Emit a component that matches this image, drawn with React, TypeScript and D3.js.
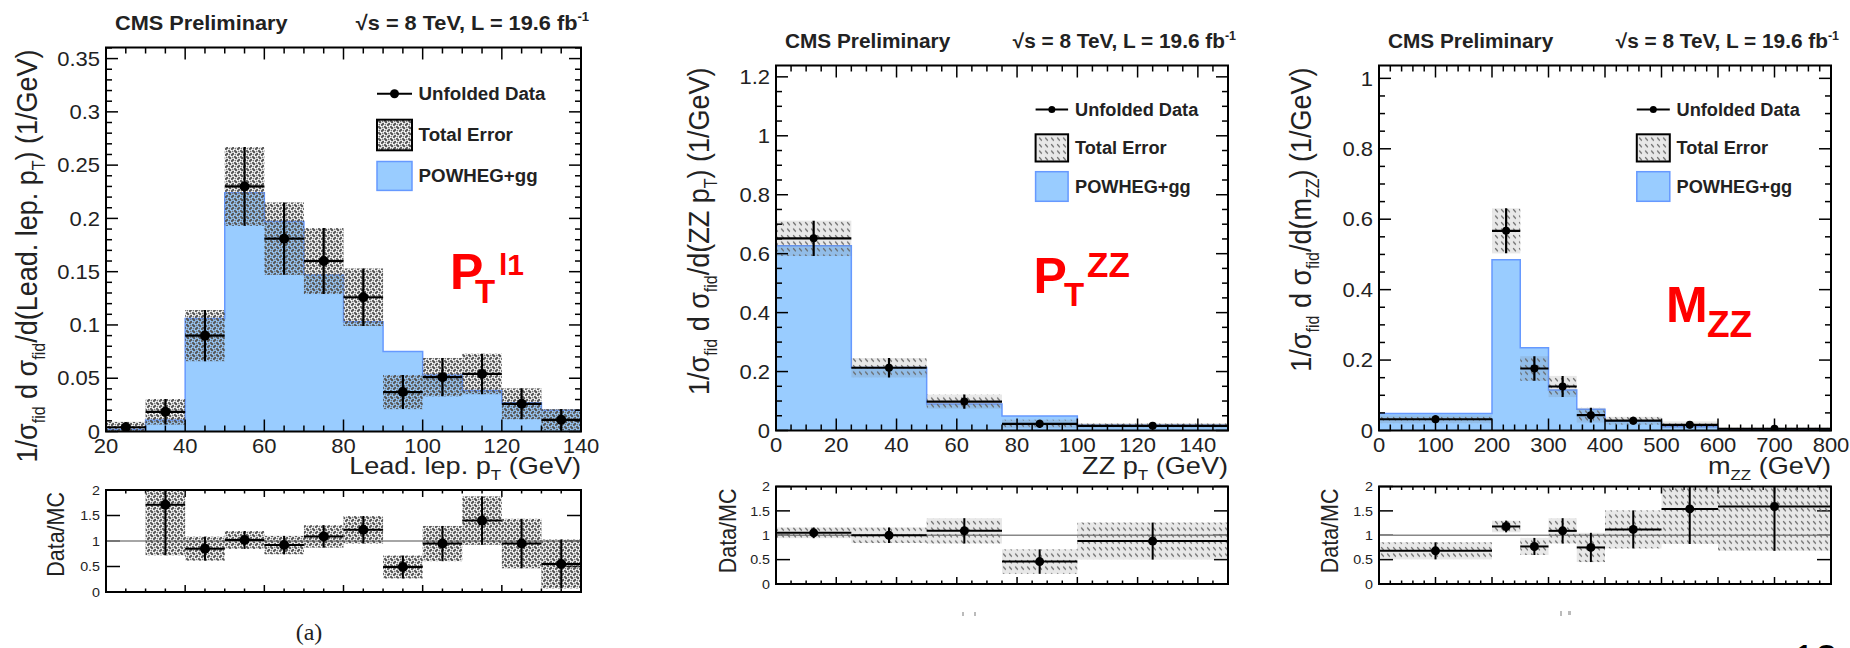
import React from "react";
import * as d3 from "d3";

// ---------- Leading lepton pT ----------
const ptl1Edges = [20, 30, 40, 50, 60, 70, 80, 90, 100, 110, 120, 130, 140];
const ptl1Mc = [0.002, 0.0108, 0.106, 0.224, 0.197, 0.147, 0.103, 0.075, 0.053, 0.0385, 0.027, 0.02];
const ptl1Data = [0.004, 0.0185, 0.09, 0.23, 0.181, 0.16, 0.126, 0.037, 0.051, 0.054, 0.026, 0.011];
const ptl1Err = [0.005, 0.012, 0.024, 0.037, 0.034, 0.031, 0.027, 0.016, 0.018, 0.019, 0.0145, 0.01];
const ptl1Ratio = [null, 1.71, 0.85, 1.02, 0.92, 1.09, 1.22, 0.49, 0.95, 1.4, 0.95, 0.55];
const ptl1RatioErr = [null, 0.99, 0.235, 0.175, 0.18, 0.22, 0.27, 0.225, 0.345, 0.475, 0.485, 0.48];

// ---------- ZZ pT ----------
const ptzzEdges = [0, 25, 50, 75, 100, 150];
const ptzzMc = [0.627, 0.2135, 0.09, 0.0496, 0.018];
const ptzzData = [0.652, 0.213, 0.098, 0.0225, 0.016];
const ptzzErr = [0.06, 0.033, 0.024, 0.014, 0.009];
const ptzzRatio = [1.05, 1.0, 1.09, 0.46, 0.88];
const ptzzRatioErr = [0.11, 0.16, 0.26, 0.25, 0.38];

// ---------- mZZ ----------
const mzzEdges = [0, 200, 250, 300, 350, 400, 500, 600, 800];
const mzzMc = [0.048, 0.485, 0.235, 0.115, 0.06, 0.027, 0.011, 0.003];
const mzzData = [0.032, 0.567, 0.176, 0.125, 0.0435, 0.028, 0.016, 0.005];
const mzzErr = [0.011, 0.064, 0.035, 0.03, 0.021, 0.011, 0.01, 0.005];
const mzzRatio = [0.68, 1.18, 0.77, 1.09, 0.75, 1.12, 1.54, 1.59];
const mzzRatioErr = [0.175, 0.12, 0.175, 0.26, 0.3, 0.39, 0.72, 0.91];

const ratioTicks = [0, 0.5, 1, 1.5, 2];
const legendLabels = ["Unfolded Data", "Total Error", "POWHEG+gg"];

const FONT = "'Liberation Sans', Arial, Helvetica, sans-serif";
const BLUE_FILL = "#99ccff";
const BLUE_LINE = "#6699ff";
const INK = "#222";
// the figure artwork is slightly wider than tall, so its lettering is widened a little
const WIDE = 1.1;

const fmt = (v: number) => String(+v.toFixed(3));

type Sub = { t: string; sub?: boolean; sup?: boolean };

interface PanelCfg {
  id: string;
  edges: number[];
  mc: number[];
  data: number[];
  err: number[];
  ratio: (number | null)[];
  ratioErr: (number | null)[];
  xMajor: number[];
  xMinorStep: number;
  yMajor: number[];
  yMinorStep: number;
  yMax: number;
  frame: { x0: number; x1: number; y0: number; y1: number };
  rFrame: { y0: number; y1: number };
  pattern: string;
  markerR: number;
  rMarkerR: number;
  titleY: number;
  titleFont: number;
  titleWide: number;
  legend: { x: number; w: number; lineY: number; te: [number, number]; pw: [number, number]; textX: number; font: number };
  yTitleX: number;
  rTitleX: number;
  yTitle: Sub[];
  xTitle: Sub[];
  red: { t: string; x: number; y: number; size: number }[];
}

function RichText({ parts, size, subSize, shift }: { parts: Sub[]; size: number; subSize: number; shift: number }) {
  const out: React.ReactNode[] = [];
  let offset = 0;
  parts.forEach((p, i) => {
    let target = 0;
    if (p.sub) target = shift;
    if (p.sup) target = -shift * 1.3;
    const dy = target - offset;
    offset = target;
    out.push(
      <tspan key={i} dy={dy} fontSize={p.sub || p.sup ? subSize : size}>
        {p.t}
      </tspan>
    );
  });
  return <>{out}</>;
}

// text placed at (x, y) and widened horizontally by k
function WText({ x, y, k = WIDE, rotate = 0, children, ...rest }: any) {
  const tf = `translate(${x},${y}) scale(${k},1)${rotate ? ` rotate(${rotate})` : ""}`;
  return (
    <text transform={tf} {...rest}>
      {children}
    </text>
  );
}

function Panel({ c }: { c: PanelCfg }) {
  const { frame, rFrame } = c;
  const xDom: [number, number] = [c.edges[0], c.edges[c.edges.length - 1]];
  const x = d3.scaleLinear().domain(xDom).range([frame.x0, frame.x1]);
  const y = d3.scaleLinear().domain([0, c.yMax]).range([frame.y1, frame.y0]);
  const yr = d3.scaleLinear().domain([0, 2]).range([rFrame.y1, rFrame.y0]);

  const n = c.mc.length;
  let area = `M${x(c.edges[0])},${y(0)}`;
  let outline = `M${x(c.edges[0])},${y(0)}`;
  for (let i = 0; i < n; i++) {
    const seg = `L${x(c.edges[i])},${y(c.mc[i])}L${x(c.edges[i + 1])},${y(c.mc[i])}`;
    area += seg;
    outline += seg;
  }
  area += `L${x(xDom[1])},${y(0)}Z`;
  outline += `L${x(xDom[1])},${y(0)}`;

  const isMult = (v: number, s: number) => Math.abs(v / s - Math.round(v / s)) < 1e-6;
  const xMinor = d3.range(xDom[0], xDom[1] + 1e-9, c.xMinorStep);
  const xMajStep = c.xMajor[1] - c.xMajor[0];
  const yMinor = d3.range(0, c.yMax + 1e-9, c.yMinorStep);
  const yMajStep = c.yMajor[1] - c.yMajor[0];

  const ticks: React.ReactNode[] = [];
  xMinor.forEach((v, i) => {
    const maj = isMult(v - c.xMajor[0], xMajStep);
    const L = maj ? 12 : 6;
    const X = x(v);
    ticks.push(<line key={`xb${i}`} x1={X} x2={X} y1={frame.y1} y2={frame.y1 - L} />);
    ticks.push(<line key={`xt${i}`} x1={X} x2={X} y1={frame.y0} y2={frame.y0 + L} />);
    const rl = maj ? 7 : 3.5;
    ticks.push(<line key={`rb${i}`} x1={X} x2={X} y1={rFrame.y1} y2={rFrame.y1 - rl} />);
    ticks.push(<line key={`rt${i}`} x1={X} x2={X} y1={rFrame.y0} y2={rFrame.y0 + rl} />);
  });
  yMinor.forEach((v, i) => {
    const maj = isMult(v, yMajStep);
    const L = maj ? 12 : 6;
    const Y = y(v);
    ticks.push(<line key={`yl${i}`} x1={frame.x0} x2={frame.x0 + L} y1={Y} y2={Y} />);
    ticks.push(<line key={`yr${i}`} x1={frame.x1} x2={frame.x1 - L} y1={Y} y2={Y} />);
  });
  ratioTicks.forEach((v, i) => {
    const Y = yr(v);
    ticks.push(<line key={`ryl${i}`} x1={frame.x0} x2={frame.x0 + 14} y1={Y} y2={Y} />);
    ticks.push(<line key={`ryr${i}`} x1={frame.x1} x2={frame.x1 - 14} y1={Y} y2={Y} />);
  });

  const lg = c.legend;

  return (
    <g fontFamily={FONT}>
      <defs>
        <clipPath id={`cm-${c.id}`}>
          <rect x={frame.x0} y={frame.y0} width={frame.x1 - frame.x0} height={frame.y1 - frame.y0} />
        </clipPath>
        <clipPath id={`cr-${c.id}`}>
          <rect x={frame.x0} y={rFrame.y0} width={frame.x1 - frame.x0} height={rFrame.y1 - rFrame.y0} />
        </clipPath>
      </defs>

      {/* header */}
      <WText x={frame.x0 + 9} y={c.titleY} k={c.titleWide} fontSize={c.titleFont} fontWeight="bold" fill={INK}>
        CMS Preliminary
      </WText>
      <WText x={frame.x1 + 8} y={c.titleY} k={c.titleWide} fontSize={c.titleFont} fontWeight="bold" fill={INK} textAnchor="end">
        <tspan>√s = 8 TeV, L = 19.6 fb</tspan>
        <tspan fontSize={c.titleFont * 0.6} dy={-c.titleFont * 0.42}>-1</tspan>
      </WText>

      {/* main distribution */}
      <g clipPath={`url(#cm-${c.id})`}>
        <path d={area} fill={BLUE_FILL} />
        <path d={outline} fill="none" stroke={BLUE_LINE} strokeWidth={1.5} />
        {c.data.map((d, i) => (
          <rect
            key={`b${i}`}
            x={x(c.edges[i])}
            width={x(c.edges[i + 1]) - x(c.edges[i])}
            y={y(d + c.err[i])}
            height={y(Math.max(d - c.err[i], 0)) - y(d + c.err[i])}
            fill={`url(#${c.pattern})`}
          />
        ))}
        {c.data.map((d, i) => {
          const cx = x((c.edges[i] + c.edges[i + 1]) / 2);
          return (
            <g key={`p${i}`} stroke="#000" strokeWidth={2.2}>
              <line x1={x(c.edges[i])} x2={x(c.edges[i + 1])} y1={y(d)} y2={y(d)} />
              <line x1={cx} x2={cx} y1={y(d + c.err[i])} y2={y(Math.max(d - c.err[i], 0))} />
              <circle cx={cx} cy={y(d)} r={c.markerR} fill="#000" stroke="none" />
            </g>
          );
        })}
      </g>

      {/* legend */}
      <g>
        <line x1={lg.x} x2={lg.x + lg.w} y1={lg.lineY} y2={lg.lineY} stroke="#000" strokeWidth={2} />
        <circle cx={lg.x + lg.w / 2} cy={lg.lineY} r={c.markerR - 0.5} fill="#000" />
        <rect x={lg.x} y={lg.te[0]} width={lg.w} height={lg.te[1] - lg.te[0]} fill={`url(#${c.pattern})`} stroke="#000" strokeWidth={2} />
        <rect x={lg.x} y={lg.pw[0]} width={lg.w} height={lg.pw[1] - lg.pw[0]} fill={BLUE_FILL} stroke={BLUE_LINE} strokeWidth={1.5} />
        {[lg.lineY, (lg.te[0] + lg.te[1]) / 2, (lg.pw[0] + lg.pw[1]) / 2].map((ly, i) => (
          <WText key={i} x={lg.textX} y={ly} k={1.04} dy="0.36em" fontSize={lg.font} fontWeight="bold" fill={INK}>
            {legendLabels[i]}
          </WText>
        ))}
      </g>

      {/* red variable label */}
      {c.red.map((r, i) => (
        <text key={i} x={r.x} y={r.y} fontSize={r.size} fontWeight="bold" fill="#ff0000">
          {r.t}
        </text>
      ))}

      {/* frame + ticks */}
      <g stroke="#000" strokeWidth={1.5}>{ticks}</g>
      <rect x={frame.x0} y={frame.y0} width={frame.x1 - frame.x0} height={frame.y1 - frame.y0} fill="none" stroke="#000" strokeWidth={2} />

      {/* axis labels */}
      {c.yMajor.map((v, i) => (
        <WText key={`yl${i}`} x={frame.x0 - 6} y={y(v)} dy="0.36em" textAnchor="end" fontSize={20} fill={INK}>
          {fmt(v)}
        </WText>
      ))}
      {c.xMajor.map((v, i) => (
        <WText key={`xl${i}`} x={x(v)} y={frame.y1 + 21.5} textAnchor="middle" fontSize={20} fill={INK}>
          {fmt(v)}
        </WText>
      ))}
      <WText x={frame.x1} y={474} k={1.13} textAnchor="end" fill={INK} fontSize={24}>
        <RichText parts={c.xTitle} size={24} subSize={15} shift={6} />
      </WText>
      <WText x={c.yTitleX} y={frame.y0 + 2} rotate={-90} textAnchor="end" fill={INK} fontSize={27}>
        <RichText parts={c.yTitle} size={27} subSize={16} shift={7} />
      </WText>

      {/* ratio panel */}
      <line x1={frame.x0} x2={frame.x1} y1={yr(1)} y2={yr(1)} stroke="#888" strokeWidth={1.5} />
      <g clipPath={`url(#cr-${c.id})`}>
        {c.ratio.map((r, i) =>
          r == null ? null : (
            <rect
              key={`rb${i}`}
              x={x(c.edges[i])}
              width={x(c.edges[i + 1]) - x(c.edges[i])}
              y={yr(r + (c.ratioErr[i] as number))}
              height={yr(r - (c.ratioErr[i] as number)) - yr(r + (c.ratioErr[i] as number))}
              fill={`url(#${c.pattern})`}
            />
          )
        )}
        {c.ratio.map((r, i) => {
          if (r == null) return null;
          const e = c.ratioErr[i] as number;
          const cx = x((c.edges[i] + c.edges[i + 1]) / 2);
          return (
            <g key={`rp${i}`} stroke="#000" strokeWidth={2}>
              <line x1={x(c.edges[i])} x2={x(c.edges[i + 1])} y1={yr(r)} y2={yr(r)} />
              <line x1={cx} x2={cx} y1={yr(r + e)} y2={yr(Math.max(r - e, 0))} />
              <circle cx={cx} cy={yr(r)} r={c.rMarkerR} fill="#000" stroke="none" />
            </g>
          );
        })}
      </g>
      <rect x={frame.x0} y={rFrame.y0} width={frame.x1 - frame.x0} height={rFrame.y1 - rFrame.y0} fill="none" stroke="#000" strokeWidth={2} />
      {ratioTicks.map((v, i) => (
        <WText key={`rl${i}`} x={frame.x0 - 6} y={yr(v)} dy="0.36em" textAnchor="end" fontSize={13} fill={INK}>
          {fmt(v)}
        </WText>
      ))}
      <WText x={c.rTitleX} y={rFrame.y0 + 2} rotate={-90} textAnchor="end" fontSize={21.5} fill={INK}>
        Data/MC
      </WText>
    </g>
  );
}

const yTitleHead: Sub[] = [
  { t: "1/σ" },
  { t: "fid", sub: true },
  { t: " d σ" },
  { t: "fid", sub: true },
];

const panels: PanelCfg[] = [
  {
    id: "ptl1",
    edges: ptl1Edges,
    mc: ptl1Mc,
    data: ptl1Data,
    err: ptl1Err,
    ratio: ptl1Ratio,
    ratioErr: ptl1RatioErr,
    xMajor: d3.range(20, 141, 20),
    xMinorStep: 5,
    yMajor: d3.range(0, 0.351, 0.05),
    yMinorStep: 0.01,
    yMax: 0.3604,
    frame: { x0: 106, x1: 581, y0: 47.5, y1: 431.5 },
    rFrame: { y0: 490, y1: 592 },
    pattern: "errA",
    markerR: 5,
    rMarkerR: 5,
    titleY: 30,
    titleFont: 20.5,
    titleWide: 1.06,
    legend: { x: 377, w: 35, lineY: 93.8, te: [119.7, 150.3], pw: [161.5, 190.4], textX: 418.6, font: 18 },
    yTitleX: 37,
    rTitleX: 64,
    yTitle: [...yTitleHead, { t: "/d(Lead. lep. p" }, { t: "T", sub: true }, { t: ") (1/GeV)" }],
    xTitle: [{ t: "Lead. lep. p" }, { t: "T", sub: true }, { t: " (GeV)" }],
    red: [
      { t: "P", x: 450, y: 289, size: 50 },
      { t: "T", x: 475, y: 302.6, size: 33 },
      { t: "l1", x: 499, y: 274.7, size: 30 },
    ],
  },
  {
    id: "ptzz",
    edges: ptzzEdges,
    mc: ptzzMc,
    data: ptzzData,
    err: ptzzErr,
    ratio: ptzzRatio,
    ratioErr: ptzzRatioErr,
    xMajor: d3.range(0, 141, 20),
    xMinorStep: 5,
    yMajor: d3.range(0, 1.201, 0.2),
    yMinorStep: 0.05,
    yMax: 1.2385,
    frame: { x0: 776, x1: 1228, y0: 65.5, y1: 430.5 },
    rFrame: { y0: 486.5, y1: 584 },
    pattern: "errB",
    markerR: 4,
    rMarkerR: 4.5,
    titleY: 48,
    titleFont: 20,
    titleWide: 1.04,
    legend: { x: 1035.6, w: 32.5, lineY: 109.5, te: [134.3, 161.5], pw: [171.7, 201.3], textX: 1075, font: 17.5 },
    yTitleX: 709,
    rTitleX: 736,
    yTitle: [...yTitleHead, { t: "/d(ZZ p" }, { t: "T", sub: true }, { t: ") (1/GeV)" }],
    xTitle: [{ t: "ZZ p" }, { t: "T", sub: true }, { t: " (GeV)" }],
    red: [
      { t: "P", x: 1033.6, y: 293, size: 50 },
      { t: "T", x: 1064, y: 306, size: 33 },
      { t: "ZZ", x: 1087, y: 277, size: 35 },
    ],
  },
  {
    id: "mzz",
    edges: mzzEdges,
    mc: mzzMc,
    data: mzzData,
    err: mzzErr,
    ratio: mzzRatio,
    ratioErr: mzzRatioErr,
    xMajor: d3.range(0, 801, 100),
    xMinorStep: 20,
    yMajor: d3.range(0, 1.001, 0.2),
    yMinorStep: 0.05,
    yMax: 1.0365,
    frame: { x0: 1379, x1: 1831, y0: 65.5, y1: 430.5 },
    rFrame: { y0: 486.5, y1: 584 },
    pattern: "errB",
    markerR: 4,
    rMarkerR: 4.5,
    titleY: 48,
    titleFont: 20,
    titleWide: 1.04,
    legend: { x: 1636.8, w: 33, lineY: 109.5, te: [134.3, 161.5], pw: [171.7, 201.3], textX: 1676.5, font: 17.5 },
    yTitleX: 1311,
    rTitleX: 1338,
    yTitle: [...yTitleHead, { t: "/d(m" }, { t: "ZZ", sub: true }, { t: ") (1/GeV)" }],
    xTitle: [{ t: "m" }, { t: "ZZ", sub: true }, { t: " (GeV)" }],
    red: [
      { t: "M", x: 1666, y: 322, size: 50 },
      { t: "ZZ", x: 1707, y: 336.6, size: 37 },
    ],
  },
];

export default function App() {
  return (
    <svg
      width={1850}
      height={648}
      viewBox="0 0 1850 648"
      style={{ position: "absolute", left: 0, top: 0, display: "block" }}
    >
      <defs>
        {/* mottled grey fill used for the total-error bands of the first panel */}
        <pattern id="errA" width={6} height={6} patternUnits="userSpaceOnUse">
          <ellipse cx={1.6} cy={1.6} rx={2.0} ry={1.1} transform="rotate(45 1.6 1.6)" fill="#555" />
          <ellipse cx={4.6} cy={4.4} rx={2.0} ry={1.1} transform="rotate(-45 4.6 4.4)" fill="#555" />
          <circle cx={4.6} cy={1.4} r={0.9} fill="#777" />
          <circle cx={1.4} cy={4.6} r={0.9} fill="#777" />
        </pattern>
        {/* rows of short diagonal dashes for the other two panels */}
        <pattern id="errB" width={6} height={6.5} patternUnits="userSpaceOnUse">
          <rect width={6} height={6.5} fill="rgba(110,110,110,0.16)" />
          <path d="M1.2,1.2 L3.8,4.2" stroke="#666" strokeWidth={1.2} />
        </pattern>
      </defs>
      <rect width={1850} height={648} fill="#fff" />
      {panels.map((p) => (
        <Panel key={p.id} c={p} />
      ))}
      <text x={309} y={640} textAnchor="middle" fontSize={24} fontFamily="'Liberation Serif', 'Times New Roman', serif" fill={INK}>
        (a)
      </text>
      <g fill="#bbb">
        <rect x={962} y={612} width={2} height={4} />
        <rect x={974} y={612} width={2} height={4} />
        <rect x={1560} y={611} width={2} height={5} />
        <rect x={1568} y={611} width={3} height={4} />
      </g>
      <text x={1793} y={673} fontSize={40} fontFamily={FONT} fill="#000">
        12
      </text>
    </svg>
  );
}
